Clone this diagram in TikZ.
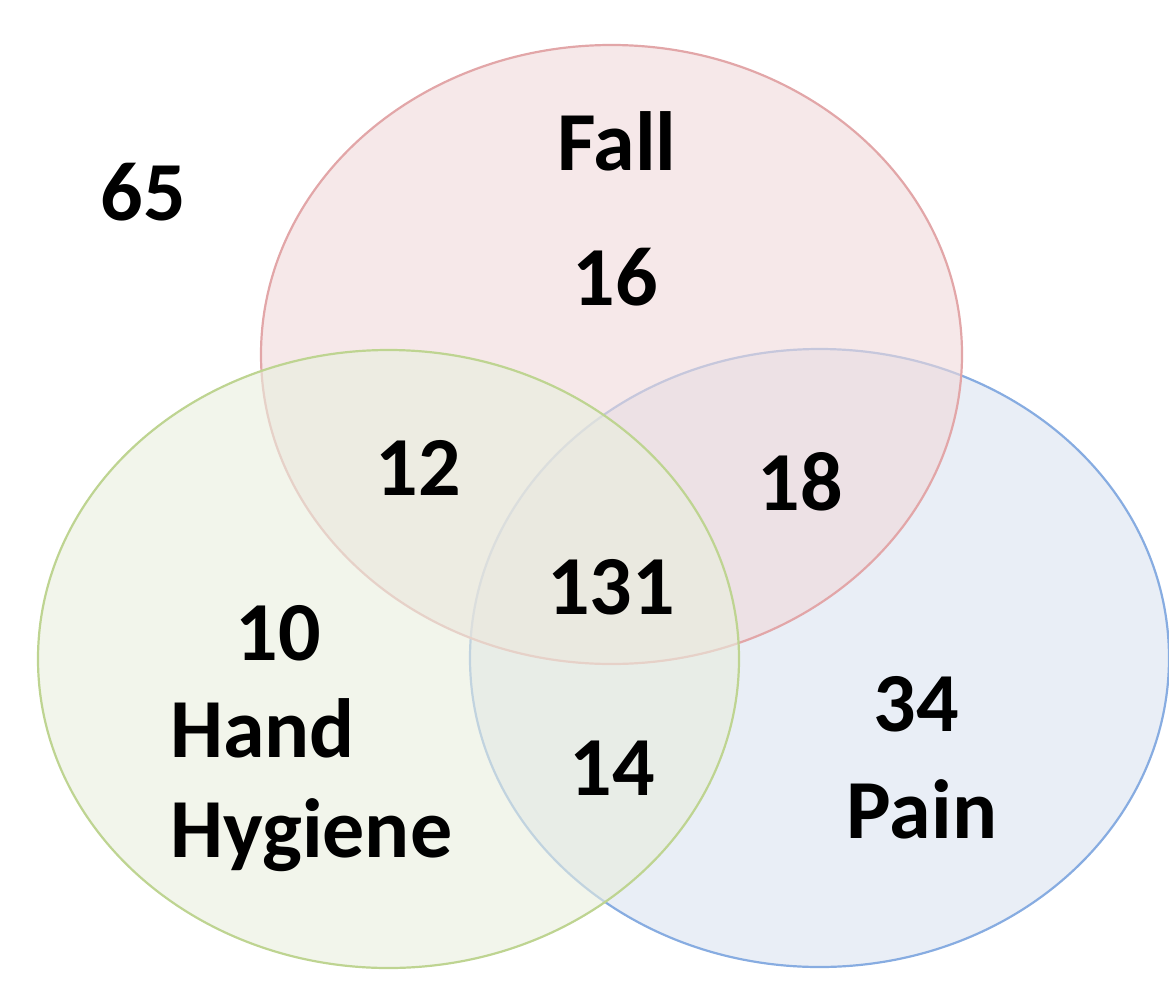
\documentclass[tikz,border=0pt]{standalone}
\usepackage{fontspec}
\setmainfont{Carlito}
\definecolor{fallf}{RGB}{240,217,218}
\definecolor{handf}{RGB}{233,238,222}
\definecolor{painf}{RGB}{218,227,240}
\definecolor{falld}{RGB}{226,166,168}
\definecolor{handd}{RGB}{190,212,145}
\definecolor{paind}{RGB}{135,172,225}
\begin{document}
\begin{tikzpicture}[x=1pt,y=-1pt,
  setshape/.style 2 args={fill=#1,fill opacity=0.6,draw=#2,draw opacity=1,line width=2.2pt},
  lbl/.style={inner sep=0pt,anchor=base,font=\fontsize{84}{100}\selectfont\bfseries,text=black}]
\useasboundingbox (0,0) rectangle (1169,982);
\path[setshape={painf}{paind}] (819.5,658) ellipse [x radius=349.5,y radius=309];
\path[setshape={fallf}{falld}] (611.5,354.5) ellipse [x radius=350.5,y radius=309.5];
\path[setshape={handf}{handd}] (388.5,659) ellipse [x radius=350.5,y radius=309];
\node[lbl] (n65) at (143,220) {65};
\node[lbl] (fall) at (617,170) {Fall};
\node[lbl] (n16) at (615,305) {16};
\node[lbl] (n12) at (418,495) {12};
\node[lbl] (n18) at (800,510) {18};
\node[lbl] (n131) at (611,614) {131};
\node[lbl] (n10) at (278,660) {10};
\node[lbl,anchor=base west] (hand) at (170,757) {Hand};
\node[lbl,anchor=base west] (hyg) at (170,857) {Hygiene};
\node[lbl] (n14) at (612,795) {14};
\node[lbl] (n34) at (916,731) {34};
\node[lbl] (pain) at (922,838) {Pain};
\end{tikzpicture}
\end{document}
